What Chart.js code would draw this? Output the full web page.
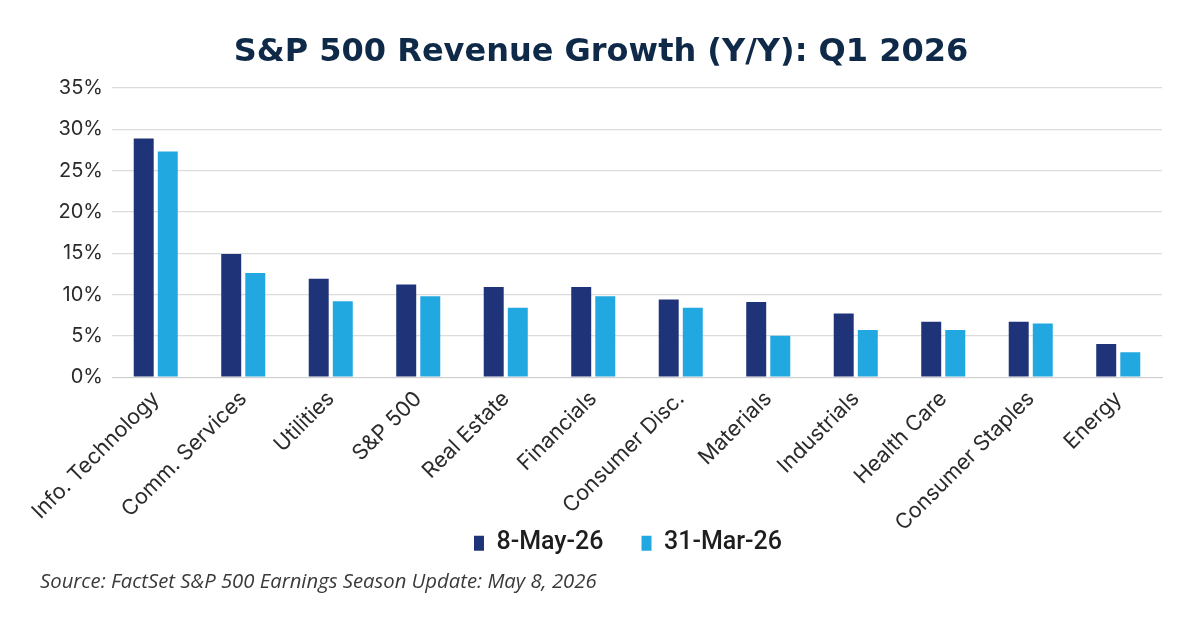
<!DOCTYPE html>
<html>
<head>
<meta charset="utf-8">
<title>S&P 500 Revenue Growth (Y/Y): Q1 2026</title>
<script src="https://cdn.jsdelivr.net/npm/chart.js@4.4.1/dist/chart.umd.min.js"></script>
<style>
  html, body { margin: 0; padding: 0; background: #ffffff; }
  #wrap { width: 1200px; height: 627px; }
</style>
</head>
<body>
<div id="wrap"><canvas id="growthChart" width="1200" height="627"></canvas></div>
<script>
// sectors, in the order shown
const sectors = ['Info. Technology', 'Comm. Services', 'Utilities', 'S&P 500', 'Real Estate',
  'Financials', 'Consumer Disc.', 'Materials', 'Industrials', 'Health Care', 'Consumer Staples', 'Energy'];

// revenue growth in %
const growthMay8 = [28.9, 14.9, 11.9, 11.2, 10.9, 10.9, 9.4, 9.1, 7.7, 6.7, 6.7, 4.0];
const growthMar31 = [27.3, 12.6, 9.2, 9.8, 8.4, 9.8, 8.4, 5.0, 5.7, 5.7, 6.5, 3.0];

const seriesNames = ['8-May-26', '31-Mar-26'];
const yTicks = [0, 5, 10, 15, 20, 25, 30, 35];

const navy = '#1f3478';
const sky = '#21a8e1';

// legend row sits right under the slanted labels and a bit right of centre.
// the legend clips to its own box, so stretch the box up instead of moving it
const moveLegend = {
  id: 'moveLegend',
  afterLayout(chart) {
    const lg = chart.legend;
    lg.left += 27;
    lg.right += 27;
    lg.top -= 46;
  },
};

const ctx = document.getElementById('growthChart').getContext('2d');

const growthChart = new Chart(ctx, {
  type: 'bar',
  data: {
    labels: sectors,
    datasets: [
      {
        label: seriesNames[0],
        data: growthMay8,
        backgroundColor: navy,
        categoryPercentage: 0.55,
        barPercentage: 0.83,
      },
      {
        label: seriesNames[1],
        data: growthMar31,
        backgroundColor: sky,
        categoryPercentage: 0.55,
        barPercentage: 0.83,
      },
    ],
  },
  options: {
    responsive: false,
    animation: false,
    layout: {
      padding: { left: 40, right: 38, top: 33, bottom: 33 },
    },
    scales: {
      x: {
        grid: { display: false, drawTicks: false },
        border: { display: true, color: '#cfcfcf', width: 1 },
        ticks: {
          color: '#2b2b2b',
          font: { family: 'Inter', size: 21.5 },
          minRotation: 45,
          maxRotation: 45,
          autoSkip: false,
          padding: 9,
        },
        afterFit: (axis) => {
          axis.height = 161.5;
        },
      },
      y: {
        min: 0,
        max: 35,
        afterBuildTicks: (axis) => {
          axis.ticks = yTicks.map((v) => ({ value: v }));
        },
        afterFit: (axis) => {
          axis.width = 72;
        },
        grid: { color: '#dcdcdc', lineWidth: 1.2, drawTicks: false },
        border: { display: false },
        ticks: {
          color: '#2b2b2b',
          font: { family: 'Inter', size: 20 },
          padding: 9,
          callback: (v) => v + '%',
        },
      },
    },
    plugins: {
      title: {
        display: true,
        text: 'S&P 500 Revenue Growth (Y/Y): Q1 2026',
        color: '#0f2a48',
        font: { family: 'DejaVu Sans', size: 32, weight: 'bold' },
        padding: { top: 0, bottom: 16.6 },
      },
      legend: {
        position: 'bottom',
        maxHeight: 27,
        labels: {
          color: '#1e1e1e',
          font: { family: 'Roboto', size: 25, weight: '500' },
          boxWidth: 10,
          boxHeight: 15,
          padding: 38,
        },
      },
      subtitle: {
        display: true,
        position: 'bottom',
        align: 'start',
        text: 'Source: FactSet S&P 500 Earnings Season Update: May 8, 2026',
        color: '#3a3a3a',
        font: { family: 'Open Sans', size: 20.3, style: 'italic' },
        padding: { top: 4, bottom: 0 },
      },
      tooltip: { enabled: false },
    },
  },
  plugins: [moveLegend],
});
</script>
</body>
</html>
